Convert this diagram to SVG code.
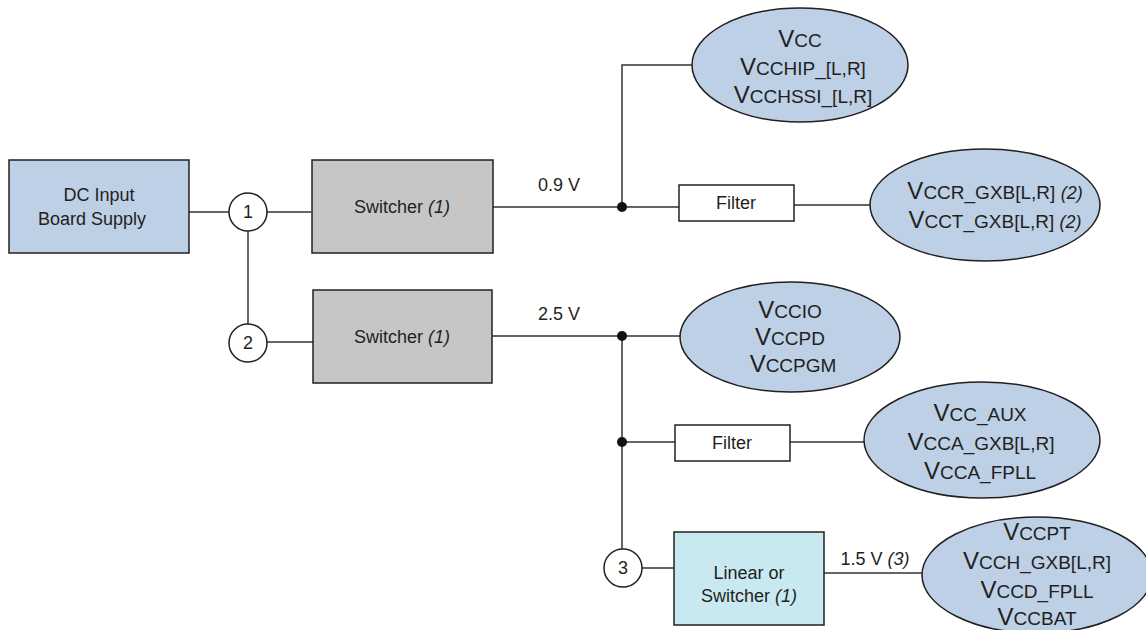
<svg xmlns="http://www.w3.org/2000/svg" width="1146" height="630" viewBox="0 0 1146 630">
<style>
text{font-family:"Liberation Sans",Arial,sans-serif;fill:#231f20;text-anchor:middle}
.lbl{font-size:18px}
.v{font-size:24px}
.s{font-size:19px}
.i{font-style:italic}
.blue{fill:#bdd0e6;stroke:#231f20;stroke-width:1.5}
.gray{fill:#c6c6c6;stroke:#231f20;stroke-width:1.5}
.cyan{fill:#c9e9f0;stroke:#231f20;stroke-width:1.5}
.white{fill:#fff;stroke:#231f20;stroke-width:1.5}
.ln{fill:none;stroke:#333;stroke-width:1.5}
.dot{fill:#111}
</style>
<g id="connectors">
<path class="ln" d="M189 212H229M267 212H311M248 231V324M267 342H313"/>
<path class="ln" d="M493 207H679M622 207V65H692M794 205H870"/>
<path class="ln" d="M492 336H680M622 336V549M622 442H675M790 442H864"/>
<path class="ln" d="M642 568H674M824 573H922"/>
<circle class="dot" cx="622" cy="207" r="5"/>
<circle class="dot" cx="622" cy="336" r="5"/>
<circle class="dot" cx="622" cy="442" r="5"/>
</g>
<g id="dc-input">
<rect class="blue" x="9" y="160" width="180" height="93"/>
<text class="lbl" x="99" y="201">DC Input</text>
<text class="lbl" x="92" y="225">Board Supply</text>
</g>
<g id="n1"><circle class="white" cx="248" cy="212" r="19"/><text class="lbl" x="248" y="218">1</text></g>
<g id="n2"><circle class="white" cx="248" cy="343" r="19"/><text class="lbl" x="248" y="349">2</text></g>
<g id="n3"><circle class="white" cx="623" cy="568" r="19"/><text class="lbl" x="623" y="574">3</text></g>
<g id="switcher1">
<rect class="gray" x="312" y="160" width="181" height="93"/>
<text class="lbl" x="402" y="213">Switcher <tspan class="i">(1)</tspan></text>
</g>
<g id="switcher2">
<rect class="gray" x="313" y="290" width="179" height="93"/>
<text class="lbl" x="402" y="343">Switcher <tspan class="i">(1)</tspan></text>
</g>
<g id="labels">
<text class="lbl" x="559" y="191">0.9 V</text>
<text class="lbl" x="559" y="320">2.5 V</text>
<text class="lbl" x="875" y="565">1.5 V <tspan class="i">(3)</tspan></text>
</g>
<g id="filter1">
<rect class="white" x="679" y="185" width="115" height="36"/>
<text class="lbl" x="736" y="209">Filter</text>
</g>
<g id="filter2">
<rect class="white" x="675" y="425" width="115" height="36"/>
<text class="lbl" x="732" y="449">Filter</text>
</g>
<g id="linear">
<rect class="cyan" x="674" y="532" width="150" height="93"/>
<text class="lbl" x="749" y="579">Linear or</text>
<text class="lbl" x="749" y="602">Switcher <tspan class="i">(1)</tspan></text>
</g>
<g id="e1">
<ellipse class="blue" cx="800" cy="65" rx="108" ry="57"/>
<text x="800" y="47"><tspan class="v">V</tspan><tspan class="s">CC</tspan></text>
<text x="803" y="75"><tspan class="v">V</tspan><tspan class="s">CCHIP_[L,R]</tspan></text>
<text x="803" y="103"><tspan class="v">V</tspan><tspan class="s">CCHSSI_[L,R]</tspan></text>
</g>
<g id="e2">
<ellipse class="blue" cx="985" cy="205" rx="115" ry="56"/>
<text x="995" y="199"><tspan class="v">V</tspan><tspan class="s">CCR_GXB[L,R] </tspan><tspan class="lbl i">(2)</tspan></text>
<text x="995" y="228"><tspan class="v">V</tspan><tspan class="s">CCT_GXB[L,R] </tspan><tspan class="lbl i">(2)</tspan></text>
</g>
<g id="e3">
<ellipse class="blue" cx="790" cy="337" rx="110" ry="55"/>
<text x="790" y="318"><tspan class="v">V</tspan><tspan class="s">CCIO</tspan></text>
<text x="790" y="345"><tspan class="v">V</tspan><tspan class="s">CCPD</tspan></text>
<text x="793" y="372"><tspan class="v">V</tspan><tspan class="s">CCPGM</tspan></text>
</g>
<g id="e4">
<ellipse class="blue" cx="982" cy="440" rx="118" ry="58"/>
<text x="980" y="421"><tspan class="v">V</tspan><tspan class="s">CC_AUX</tspan></text>
<text x="981" y="450"><tspan class="v">V</tspan><tspan class="s">CCA_GXB[L,R]</tspan></text>
<text x="980" y="479"><tspan class="v">V</tspan><tspan class="s">CCA_FPLL</tspan></text>
</g>
<g id="e5">
<ellipse class="blue" cx="1037" cy="575" rx="115" ry="58"/>
<text x="1037" y="540"><tspan class="v">V</tspan><tspan class="s">CCPT</tspan></text>
<text x="1037" y="569"><tspan class="v">V</tspan><tspan class="s">CCH_GXB[L,R]</tspan></text>
<text x="1037" y="598"><tspan class="v">V</tspan><tspan class="s">CCD_FPLL</tspan></text>
<text x="1037" y="625"><tspan class="v">V</tspan><tspan class="s">CCBAT</tspan></text>
</g>
</svg>
